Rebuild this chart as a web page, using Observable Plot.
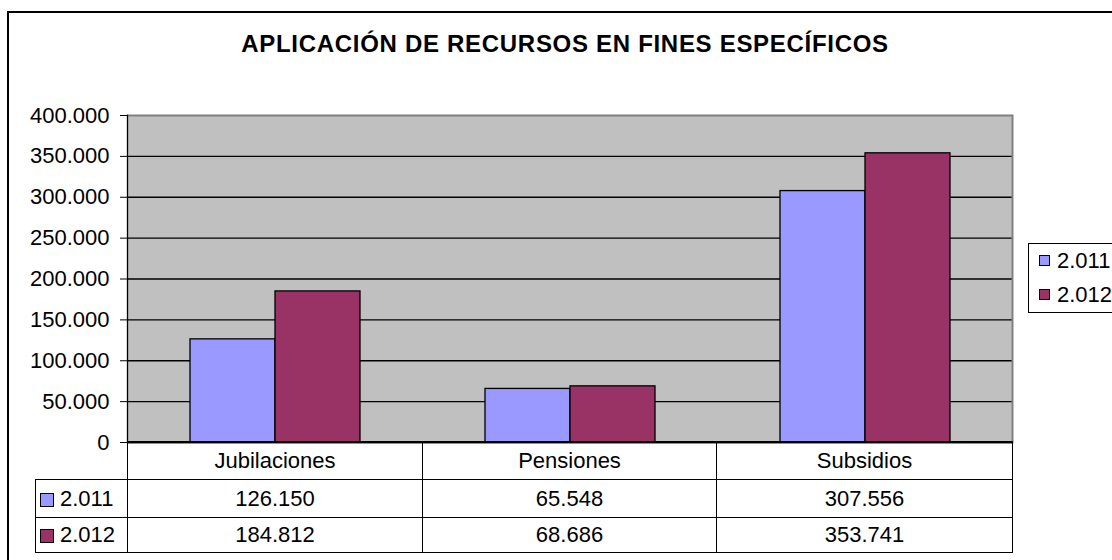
<!DOCTYPE html>
<html><head><meta charset="utf-8">
<script src="https://cdn.jsdelivr.net/npm/d3@7"></script>
<script src="https://cdn.jsdelivr.net/npm/@observablehq/plot@0.6"></script>
<style>
body{margin:0;background:#fff}
#wrap{position:relative;width:1112px;height:560px;overflow:hidden;font-family:"Liberation Sans",Arial,sans-serif;color:#000;background:#fff}
#frame{position:absolute;left:7px;top:11px;width:1200px;height:700px;border:2px solid #000}
#title{position:absolute;left:0;top:32px;width:1130px;text-align:center;font-weight:bold;font-size:24px;line-height:24px;letter-spacing:0.7px}
#chart{position:absolute;left:0;top:0}
#tbl{position:absolute;left:35px;top:441px;border-collapse:collapse;font-size:22px;table-layout:fixed}
#tbl td{border:1px solid #000;text-align:center;padding:0;white-space:nowrap}
#tbl td.blank{border-top:none;border-left:none}
#tbl td.key{text-align:left;padding-left:4px}
.sw{display:inline-block;border:1px solid #000;box-sizing:border-box;vertical-align:middle}
#tbl .sw{width:14px;height:14px;margin-right:6px;position:relative;top:0px}
#legend{position:absolute;left:1028px;top:243px;width:140px;height:68px;border:1px solid #000;font-size:22px;background:#fff}
#legend div{height:34px;line-height:34px;padding-left:10px;white-space:nowrap}
#legend .sw{width:11px;height:11px;margin-right:7px;position:relative;top:-2px}
</style>
</head><body>
<div id="wrap">
  <div id="frame"></div>
  <div id="title"></div>
  <div id="chart"></div>
  <table id="tbl"></table>
  <div id="legend"></div>
</div>
<script>
const title = "APLICACIÓN DE RECURSOS EN FINES ESPECÍFICOS";
const categories = ["Jubilaciones", "Pensiones", "Subsidios"];
const years = ["2.011", "2.012"];
const values2011 = [126150, 65548, 307556];
const values2012 = [184812, 68686, 353741];
const yTicks = [0, 50000, 100000, 150000, 200000, 250000, 300000, 350000, 400000];
const colors = ["#9999FF", "#993366"];

const series = [values2011, values2012];
const data = categories.flatMap((c, i) => years.map((y, j) => ({cat: c, year: y, value: series[j][i]})));
const fmt = d3.formatLocale({decimal: ",", thousands: ".", grouping: [3], currency: ["", ""]}).format(",d");

document.getElementById("title").textContent = title;

const makePlot = (useSuper) => Plot.plot({
  width: 1112, height: 560,
  marginLeft: 127, marginRight: 100, marginTop: 115, marginBottom: 118,
  style: {background: "transparent", fontFamily: "'Liberation Sans', Arial, sans-serif", fontSize: "22px", color: "#000", overflow: "visible"},
  fx: {domain: categories, padding: 0, axis: null},
  x: {domain: years, paddingInner: 0, paddingOuter: 0.735, axis: null},
  y: {domain: [0, 400000], ticks: yTicks, tickFormat: fmt, tickSize: 7, tickPadding: 11, label: null},
  color: {domain: years, range: colors},
  marks: [
    useSuper ? Plot.frame({fill: "#C0C0C0", stroke: null, facet: "super"}) : Plot.frame({fill: "#C0C0C0", stroke: null}),
    Plot.ruleY(yTicks.slice(0, -1), {stroke: "#000", strokeWidth: 1.3}),
    Plot.ruleY(yTicks.slice(-1), {stroke: "#808080", strokeWidth: 2}),
    ...(useSuper ? [
      Plot.frame({anchor: "left", stroke: "#000", strokeWidth: 1.3, facet: "super"}),
      Plot.frame({anchor: "right", stroke: "#808080", strokeWidth: 2, facet: "super"})
    ] : []),
    Plot.barY(data, {fx: "cat", x: "year", y: "value", fill: "year", stroke: "#000", strokeWidth: 1.3}),
    Plot.ruleY([0], {stroke: "#000", strokeWidth: 1.3})
  ]
});
let chart;
try { chart = makePlot(true); } catch (e) { chart = makePlot(false); }
document.getElementById("chart").append(chart);

// data table
const tbl = document.getElementById("tbl");
const colW = [92, 295, 294, 296];
const cg = document.createElement("colgroup");
colW.forEach(w => { const c = document.createElement("col"); c.style.width = w + "px"; cg.append(c); });
tbl.append(cg);
const head = tbl.insertRow();
head.style.height = "38px";
const b = head.insertCell(); b.className = "blank";
categories.forEach(c => { head.insertCell().textContent = c; });
years.forEach((y, j) => {
  const r = tbl.insertRow();
  r.style.height = j === 0 ? "38px" : "35px";
  const k = r.insertCell(); k.className = "key";
  const s = document.createElement("span"); s.className = "sw"; s.style.background = colors[j];
  k.append(s, document.createTextNode(y));
  series[j].forEach(v => { r.insertCell().textContent = fmt(v); });
});

// legend
const lg = document.getElementById("legend");
years.forEach((y, j) => {
  const d = document.createElement("div");
  const s = document.createElement("span"); s.className = "sw"; s.style.background = colors[j];
  d.append(s, document.createTextNode(y));
  lg.append(d);
});
</script>
</body></html>
